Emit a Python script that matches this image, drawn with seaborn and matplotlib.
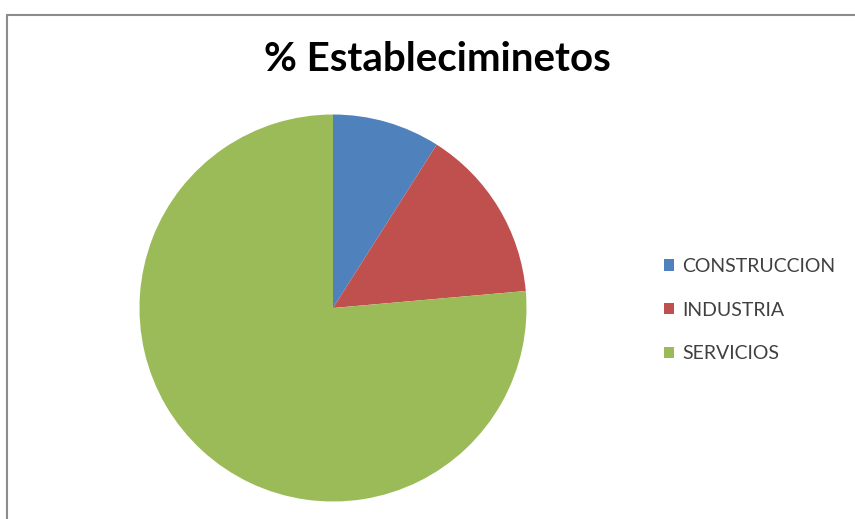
import matplotlib
matplotlib.use("Agg")
import matplotlib.pyplot as plt
import seaborn as sns
from matplotlib.lines import Line2D

# datos (porcentaje de establecimientos)
sectores = ["CONSTRUCCION", "INDUSTRIA", "SERVICIOS"]
porcentajes = [9.0, 14.6, 76.4]
colores = ["#4F81BD", "#C0504D", "#9BBB59"]

sns.set_theme(style="white")
plt.rcParams["font.family"] = ["Lato", "DejaVu Sans"]

fig = plt.figure(figsize=(8.55, 5.19), dpi=100)
fig.patch.set_facecolor("white")

# marco del area del grafico (solo se ve arriba e izquierda)
W, H = 855, 519
fig.add_artist(Line2D([7 / W, 1.0], [1 - 15 / H, 1 - 15 / H], color="#8c8c8c", lw=1.5))
fig.add_artist(Line2D([7 / W, 7 / W], [0.0, 1 - 15 / H], color="#8c8c8c", lw=1.5))

ax = fig.add_axes([139.5 / W, 17.5 / H, 387 / W, 387 / H])
wedges, _ = ax.pie(porcentajes, colors=colores, startangle=90, counterclock=False,
                   radius=1.0, wedgeprops=dict(linewidth=0))
ax.set_xlim(-1, 1)
ax.set_ylim(-1, 1)
ax.set_aspect("equal")
ax.axis("off")

fig.text(437 / W, 1 - 60 / H, "% Estableciminetos", ha="center", va="center",
         fontsize=29, fontweight="bold", color="black")

fig.legend(wedges, sectores, loc="center left", bbox_to_anchor=(664 / W, 1 - 310 / H),
           frameon=False, fontsize=14, labelcolor="#404040", handlelength=0.5,
           handleheight=0.5, handletextpad=0.45, labelspacing=1.37, borderpad=0,
           borderaxespad=0)

fig.savefig("out.png", dpi=100)
